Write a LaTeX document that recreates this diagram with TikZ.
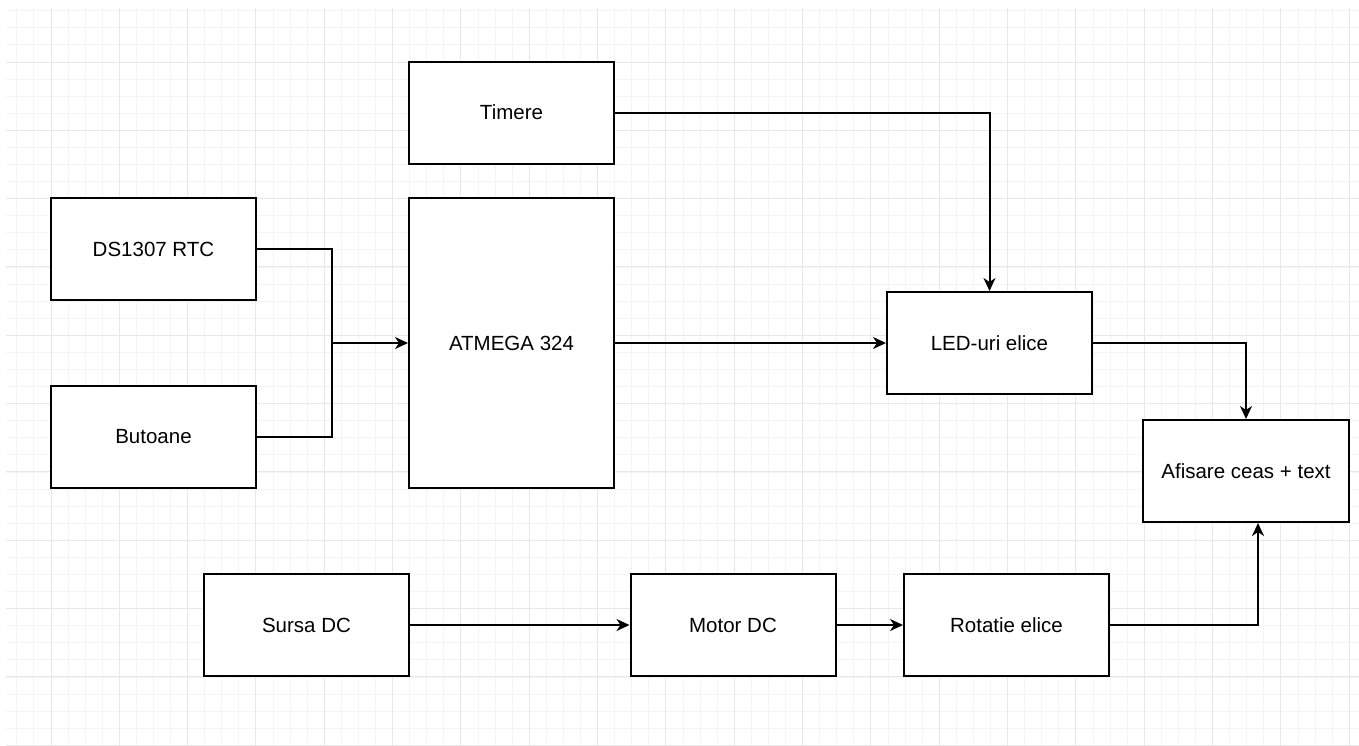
\documentclass[tikz,border=0pt]{standalone}
\usepackage{fontspec}
\setmainfont{Liberation Sans}
\usetikzlibrary{arrows.meta,calc}
\definecolor{gridminor}{HTML}{F4F4F4}
\definecolor{gridmajor}{HTML}{E8E8E8}
\begin{document}
\begin{tikzpicture}[x=1pt,y=-1pt,
  box/.style={draw=black, line width=2pt, fill=white, inner sep=0pt,
    minimum width=205pt, minimum height=102pt, font=\fontsize{20.5}{24}\selectfont},
  wire/.style={draw=black, line width=2pt},
  conn/.style={wire, -{Stealth[length=13pt,width=12pt,inset=4pt]}},
  minorline/.style={draw=gridminor, line width=1pt},
  majorline/.style={draw=gridmajor, line width=1pt}]
\useasboundingbox (0,0) rectangle (1359,745);
\fill[white] (0,0) rectangle (1359,745);
\begin{scope}
\clip (6,8) rectangle (1359,745);
\foreach \i in {-3,...,80} \draw[minorline] ({51+\i*17.083},0) -- ++(0,745);
\foreach \i in {-4,...,42} \draw[minorline] (0,{62+\i*17.083}) -- ++(1359,0);
\foreach \i in {-1,...,20} \draw[majorline] ({51+\i*68.33},0) -- ++(0,745);
\foreach \i in {-1,...,10} \draw[majorline] (0,{62+\i*68.33}) -- ++(1359,0);
\end{scope}

\node[box] (tim) at (511.5,112.5) {Timere};
\node[box] (ds) at (153.5,249) {DS1307 RTC};
\node[box, minimum height=290pt] (atm) at (511.5,343) {ATMEGA 324};
\node[box] (but) at (153.5,437) {Butoane};
\node[box] (led) at (989.5,343) {LED-uri elice};
\node[box, minimum width=206pt] (af) at (1246,471) {Afisare ceas + text};
\node[box] (src) at (306.5,625) {Sursa DC};
\node[box] (mot) at (733,625) {Motor DC};
\node[box] (rot) at (1006.5,625) {Rotatie elice};

\coordinate (j) at (332,343);
\draw[conn] (tim.east) -| (led.north);
\draw[wire] (ds.east) -| (j);
\draw[wire] (but.east) -| (j);
\draw[conn] (j) -- (atm.west);
\draw[conn] (atm.east) -- (led.west);
\draw[conn] (led.east) -| (af.north);
\draw[conn] (src.east) -- (mot.west);
\draw[conn] (mot.east) -- (rot.west);
\draw[conn] (rot.east) -| ([xshift=12pt]af.south);
\end{tikzpicture}
\end{document}
